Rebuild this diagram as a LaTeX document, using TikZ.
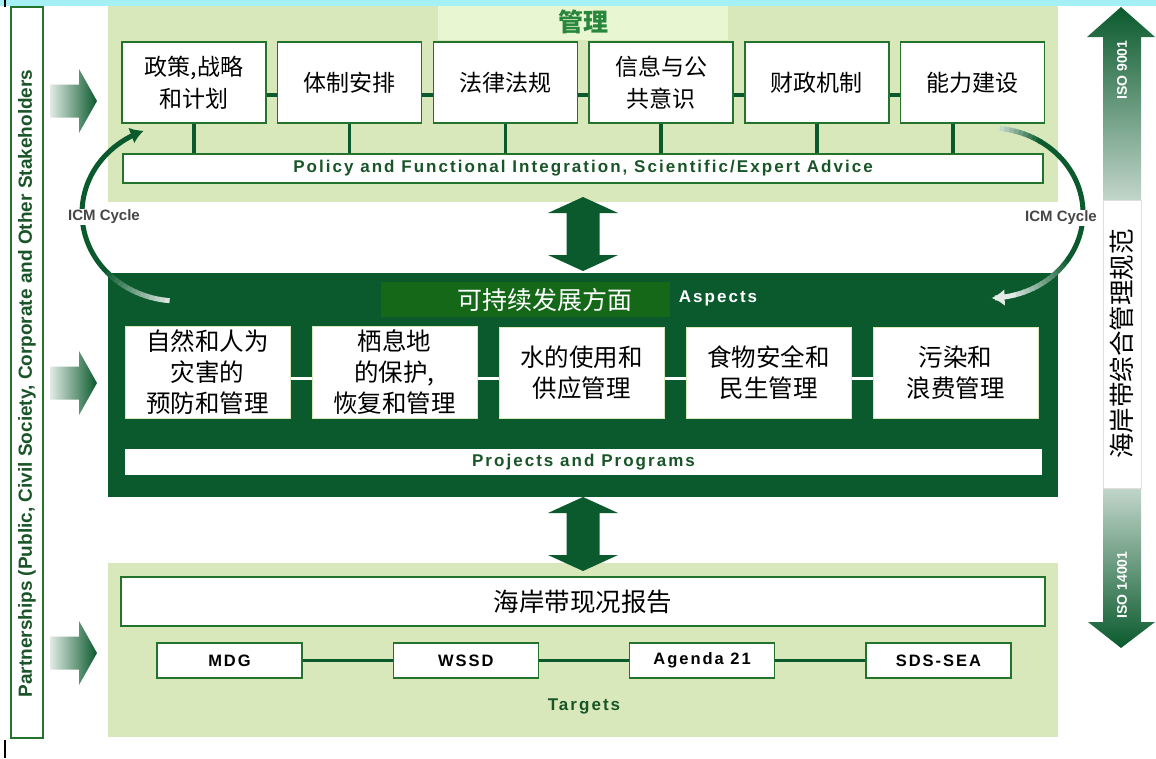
\documentclass[tikz,border=0pt]{standalone}
\usepackage{fontspec}
\setmainfont{Noto Sans CJK SC}
\newfontfamily\engfont{Liberation Sans}[LetterSpace=12]
\newfontfamily\cyclefont{Liberation Sans}
\usetikzlibrary{arrows.meta}
\definecolor{icmdark}{RGB}{10,90,45}
\definecolor{icmpale}{RGB}{216,232,186}
\definecolor{icmtab}{RGB}{232,246,210}
\definecolor{icmline}{RGB}{35,115,45}
\definecolor{icmbright}{RGB}{20,104,24}
\definecolor{icmcyan}{RGB}{165,240,245}
\definecolor{icmtext}{RGB}{25,85,40}
\definecolor{icmgreen}{RGB}{40,135,60}
\definecolor{icmgray}{RGB}{70,70,70}
\tikzset{
    topbox/.style={draw=icmline, line width=1.5pt, fill=white, minimum width=144pt,
        minimum height=81pt, align=center, font=\fontsize{23}{32}\selectfont},
    aspbox/.style={draw=icmpale, line width=1pt, fill=white, minimum width=165pt,
        minimum height=91pt, align=center, font=\fontsize{24.5}{31}\selectfont},
    tgtbox/.style={draw=icmline, line width=1.5pt, fill=white, minimum width=145pt,
        minimum height=35pt, font=\engfont\bfseries\fontsize{16.5}{18}\selectfont},
    bar/.style={fill=white, inner sep=0pt},
    engb/.style={font=\engfont\bfseries\fontsize{17}{19}\selectfont},
    link/.style={icmdark, line width=3.5pt},
    icmarc/.style={icmdark, line width=5pt},
    cyclelab/.style={fill=white, inner sep=1pt, text=icmgray,
        font=\cyclefont\bfseries\fontsize{15}{17}\selectfont},
}
\begin{document}
\begin{tikzpicture}[x=1pt, y=-1pt]
\useasboundingbox (0,0) rectangle (1156,758);
\fill[white] (0,0) rectangle (1156,758);
\fill[icmcyan] (0,0) rectangle (1156,6);
\draw[black, line width=1.2pt] (5,0) -- (5,7);
\draw[black, line width=1.2pt] (5,740) -- (5,758);

% panels
\fill[icmpale] (108,6) rectangle (1058,202);
\fill[icmtab] (438,6) rectangle (728,40);
\fill[icmdark] (108,273) rectangle (1058,497);
\fill[icmpale] (108,563) rectangle (1058,737);

% partners
\node[draw=icmline, line width=1.5pt, fill=white, rotate=90, minimum width=731pt,
    minimum height=32pt] (partner) at (27,372.5) {};
\node[rotate=90, inner sep=0pt, text=icmtext,
    font=\cyclefont\bfseries\fontsize{19}{21}\selectfont] (partnertxt) at (27,383.5)
    {Partnerships (Public, Civil Society, Corporate and Other Stakeholders};
\foreach \y in {101,383,653}
    \shade[left color=icmdark!12, middle color=icmdark!75, right color=icmdark]
        (50,\y-16.5) -- (79,\y-16.5) -- (79,\y-32) -- (97,\y) -- (79,\y+32)
        -- (79,\y+16.5) -- (50,\y+16.5) -- cycle;

% management
\node[text=icmgreen, font=\bfseries\fontsize{25}{28}\selectfont] (mgmt) at (583,22) {管理};
\node[bar, draw=icmline, line width=1.5pt, minimum width=920pt, minimum height=29pt,
    engb, text=icmtext] (pol) at (583,168.5)
    {Policy and Functional Integration, Scientific/Expert Advice};
\foreach \t [count=\i] in {{政策,战略\\和计划},体制安排,法律法规,{信息与公\\共意识},财政机制,能力建设}
    \node[topbox] (t\i) at ({194+155.7*(\i-1)},82.5) {\t};
\foreach \i [count=\j from 2] in {1,...,5}
    \draw[link] ([yshift=-12.5pt]t\i.east) -- ([yshift=-12.5pt]t\j.west);
\foreach \i in {1,...,5}
    \draw[link] (t\i.south) -- (t\i.south |- pol.north);
\coordinate (t6foot) at ([xshift=-19.5pt]t6.south);
\draw[link] (t6foot) -- (t6foot |- pol.north);

% double arrows
\foreach \y in {197,497}
    \shade[top color=icmdark, middle color=icmdark!35, bottom color=icmdark]
        (583,\y) -- (618,\y+16) -- (599.5,\y+16) -- (599.5,\y+58) -- (618,\y+58)
        -- (583,\y+74) -- (548,\y+58) -- (566.5,\y+58) -- (566.5,\y+16)
        -- (548,\y+16) -- cycle;

% aspects
\node[fill=icmbright, minimum width=289pt, minimum height=35pt] (asp) at (525.5,299.5) {};
\node[text=white, font=\fontsize{25}{28}\selectfont] (asptitle) at (545,299.5) {可持续发展方面};
\node[engb, text=white] (aspects) at (718,298) {Aspects};
\foreach \t [count=\i] in {{自然和人为\\灾害的\\预防和管理},{栖息地\\的保护,\\恢复和管理},{水的使用和\\供应管理},{食物安全和\\民生管理},{污染和\\浪费管理}}
    \node[aspbox] (a\i) at ({207.5+187*(\i-1)},372.5) {\t};
\foreach \i [count=\j from 2] in {1,...,4}
    \draw[white, line width=3pt] ([yshift=-5.5pt]a\i.east) -- ([yshift=-5.5pt]a\j.west);
\node[bar, minimum width=917pt, minimum height=26pt, engb, text=icmtext] (proj)
    at (583.5,462) {Projects and Programs};

% targets
\node[bar, draw=icmline, line width=1.5pt, minimum width=924pt, minimum height=49pt,
    font=\fontsize{25.5}{28}\selectfont] (report) at (583,601.5) {海岸带现况报告};
\foreach \t [count=\i] in {MDG,WSSD,Agenda 21,SDS-SEA}
    \node[tgtbox] (g\i) at ({229.5+236.3*(\i-1)},660.5) {\t};
\foreach \i [count=\j from 2] in {1,...,3}
    \draw[link] (g\i.east) -- (g\j.west);
\node[engb, text=icmtext] (targets) at (584,706) {Targets};

% ISO arrow
\shade[top color=icmdark, middle color=icmdark!80, bottom color=icmdark!25]
    (1121,7) -- (1155,37) -- (1141,37) -- (1141,200) -- (1103,200) -- (1103,37)
    -- (1087,37) -- cycle;
\shade[top color=icmdark!25, middle color=icmdark!80, bottom color=icmdark]
    (1103,488) -- (1141,488) -- (1141,622) -- (1155,622) -- (1121,648)
    -- (1088,622) -- (1103,622) -- cycle;
\node[fill=white, draw=gray!25, rotate=90, minimum width=288pt, minimum height=38pt,
    font=\fontsize{25.5}{28}\selectfont] (iso) at (1122,344) {海岸带综合管理规范};
\node[rotate=90, text=white, font=\cyclefont\bfseries\fontsize{14}{16}\selectfont]
    (iso9) at (1122,70) {ISO 9001};
\node[rotate=90, text=white, font=\cyclefont\bfseries\fontsize{14}{16}\selectfont]
    (iso14) at (1122,585) {ISO 14001};

% ICM cycle, left
\draw[icmarc, -{Latex[length=13pt,width=17pt]}] plot[domain=135:249, samples=40]
    ({178+96*cos(\x)},{213+88*sin(\x)});
\foreach \a [evaluate=\a as \p using {100-(137-\a)*2}] in {95,98,...,134}
    \draw[line width=5pt, icmdark!\p!white] plot[domain=\a:\a+3.5, samples=3]
        ({178+96*cos(\x)},{213+88*sin(\x)});
% ICM cycle, right
\foreach \a [evaluate=\a as \p using {25+(\a+84)*3}] in {-84,-81,...,-60}
    \draw[line width=5pt, icmdark!\p!white] plot[domain=\a:\a+3.5, samples=3]
        ({990+93*cos(\x)},{213+85*sin(\x)});
\draw[icmarc] plot[domain=-58:33, samples=40] ({990+93*cos(\x)},{213+85*sin(\x)});
\foreach \a [evaluate=\a as \p using {100-(\a-32)*2}] in {32,35,...,71}
    \draw[line width=5pt, icmdark!\p!white] plot[domain=\a:\a+3.5, samples=3]
        ({990+93*cos(\x)},{213+85*sin(\x)});
\draw[line width=5pt, icmdark!12!white, -{Latex[length=13pt,width=17pt]}]
    plot[domain=74:89, samples=8] ({990+93*cos(\x)},{213+85*sin(\x)});
\node[cyclelab] (cycl) at (104,217) {ICM Cycle};
\node[cyclelab] (cycr) at (1061,218) {ICM Cycle};
\end{tikzpicture}
\end{document}
